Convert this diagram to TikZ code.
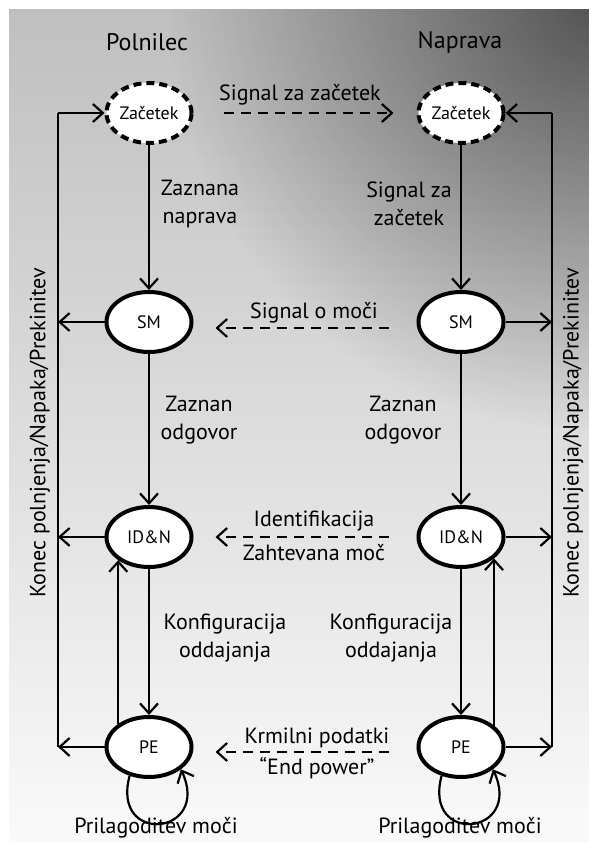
\documentclass[tikz,border=0pt]{standalone}
\usepackage{fontspec}
\setmainfont{PT Sans}
\usetikzlibrary{arrows.meta,shapes.geometric,fadings}
\tikzfading[name=corner, inner color=transparent!0, outer color=transparent!100]
\tikzset{
  state/.style={ellipse,draw,line width=2pt,fill=white,minimum width=42.5pt,minimum height=30pt,inner sep=0pt,font=\fontsize{9}{10}\selectfont},
  startstate/.style={state,dash pattern=on 4pt off 2.5pt},
  lbl/.style={align=center,inner sep=0pt,font=\fontsize{11}{14}\selectfont},
  arr/.style={line width=1.1pt,-{Straight Barb[length=5pt,width=9pt,line width=1.1pt]}},
  sig/.style={arr,line width=1.4pt,dash pattern=on 5pt off 3.5pt}
}

\begin{document}
\begin{tikzpicture}[x=0.5pt,y=0.5pt]
\useasboundingbox (0,0) rectangle (589,852);
\begin{scope}
\clip (9,9) rectangle (589,842);
\shade[top color=black!25,bottom color=black!2] (9,9) rectangle (589,842);
\fill[black,opacity=.55,path fading=corner] (589,842) circle (420);
\end{scope}

\node[font=\fontsize{12}{14}\selectfont] (tl) at (147,810) {Polnilec};
\node[font=\fontsize{12}{14}\selectfont] (tr) at (460,810) {Naprava};

\node[startstate] (zl) at (149,739) {Začetek};
\node[startstate] (zr) at (461,739) {Začetek};
\node[state] (sml) at (149,530) {SM};
\node[state] (smr) at (461,530) {SM};
\node[state] (idl) at (149,315) {ID\&N};
\node[state] (idr) at (461,315) {ID\&N};
\node[state] (pel) at (149,105) {PE};
\node[state] (per) at (461,105) {PE};

\coordinate (ltop) at (58,739);
\coordinate (lbot) at (58,105);
\coordinate (rtop) at (552,739);
\coordinate (rbot) at (552,105);

\draw[sig,shorten <=15pt,shorten >=11.5pt] (zl) -- (zr);
\draw[sig,shorten <=14pt,shorten >=11pt] ([yshift=-3pt]smr.west) -- ([yshift=-3pt]sml.east);
\draw[sig,shorten <=14pt,shorten >=11pt] (idr) -- (idl);
\draw[sig,shorten <=14pt,shorten >=11pt] ([yshift=-2.5pt]per.west) -- ([yshift=-2.5pt]pel.east);

\draw[arr] (zl) -- (sml);
\draw[arr] (sml) -- (idl);
\draw[arr] (idl) -- (pel);
\draw[arr] (pel.143) -- (idl.217);
\draw[arr] (zr) -- (smr);
\draw[arr] (smr) -- (idr);
\draw[arr] (idr) -- (per);
\draw[arr] (per.33) -- (idr.-33);

\draw[line width=1.1pt] (lbot) -- (ltop);
\draw[arr] (ltop) -- (zl);
\draw[arr] (sml) -- (sml -| ltop);
\draw[arr] (idl) -- (idl -| ltop);
\draw[arr] (pel) -- (lbot);
\draw[line width=1.1pt] (rbot) -- (rtop);
\draw[arr] (rtop) -- (zr);
\draw[arr] (smr) -- (smr -| rtop);
\draw[arr] (idr) -- (idr -| rtop);
\draw[arr] (per) -- (rbot);

\draw[arr] (pel.236) to[out=-105,in=-65,looseness=3.6] (pel.325);
\draw[arr] (per.236) to[out=-105,in=-65,looseness=3.6] (per.325);

\node[lbl] (s1) at (300,757) {Signal za začetek};
\node[lbl] (s2) at (314,539) {Signal o moči};
\node[lbl] (s3) at (314,331) {Identifikacija};
\node[lbl] (s4) at (314,299) {Zahtevana moč};
\node[lbl] (s5) at (317,114) {Krmilni podatki};
\node[lbl] (s6) at (317,84) {“End power”};

\node[lbl] (a1) at (200,648) {Zaznana\\naprava};
\node[lbl] (b1) at (409,648) {Signal za\\začetek};
\node[lbl] (a2) at (199,432) {Zaznan\\odgovor};
\node[lbl] (b2) at (403,432) {Zaznan\\odgovor};
\node[lbl] (a3) at (225,214) {Konfiguracija\\oddajanja};
\node[lbl] (b3) at (391,214) {Konfiguracija\\oddajanja};

\node[lbl] (pl) at (156,24) {Prilagoditev moči};
\node[lbl] (pr) at (460,24) {Prilagoditev moči};

\node[lbl,rotate=90] (kl) at (40,419) {Konec polnjenja/Napaka/Prekinitev};
\node[lbl,rotate=90] (kr) at (573,419) {Konec polnjenja/Napaka/Prekinitev};
\end{tikzpicture}
\end{document}
